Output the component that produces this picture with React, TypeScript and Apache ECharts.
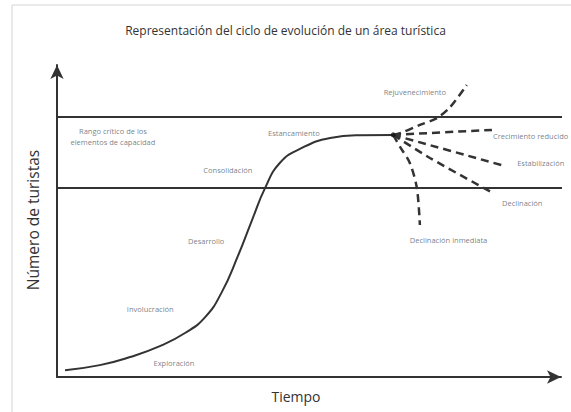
import React, { useEffect, useRef } from "react";
import * as echarts from "echarts";

const titleText = "Representación del ciclo de evolución de un área turística";
const yAxisName = "Número de turistas";
const xAxisName = "Tiempo";

// Main life-cycle curve [time, tourists]
const lifeCycleCurve: [number, number][] = [
  [1.6, 2.2], [8.5, 3.8], [14.5, 6.4], [20.4, 9.9], [25.4, 14.1],
  [29.4, 19.2], [32.7, 27.2], [35.9, 38.8], [38.7, 50.3], [41.3, 60.6],
  [44.2, 68.6], [48.2, 73.1], [54.2, 76.6], [60.1, 77.5], [66.7, 77.6],
];

// Critical range of capacity (two horizontal limits)
const capacityUpper: [number, number][] = [[0, 83.3], [102, 83.3]];
const capacityLower: [number, number][] = [[0, 60.6], [102, 60.6]];

const branchOrigin: [number, number] = [66.7, 77.6];
const rejuvenecimiento: [number, number][] = [branchOrigin, [68.7, 78.5], [72.0, 80.8], [75.4, 83.0], [78.0, 86.5], [81.3, 93.6]];
const crecimientoReducido: [number, number][] = [branchOrigin, [86.3, 79.2]];
const estabilizacion: [number, number][] = [branchOrigin, [88.9, 67.6]];
const declinacion: [number, number][] = [branchOrigin, [74.0, 70.2], [86.5, 59.0]];
const declinacionInmediata: [number, number][] = [branchOrigin, [68.1, 73.7], [70.0, 68.6], [71.4, 60.6], [72.0, 48.7]];

// Stage labels (centered on point)
const stageLabels = [
  { name: "Rejuvenecimiento", value: [71.0, 91.3] },
  { name: "Rango crítico de los\nelementos de capacidad", value: [11.1, 77.2] },
  { name: "Consolidación", value: [33.9, 66.3] },
  { name: "Estancamiento", value: [47.0, 78.2] },
  { name: "Desarrollo", value: [29.6, 43.6] },
  { name: "Involucración", value: [18.5, 21.8] },
  { name: "Exploración", value: [23.2, 4.5] },
];
// Branch labels (starting at point)
const branchLabels = [
  { name: "Crecimiento reducido", value: [86.5, 77.2] },
  { name: "Estabilización", value: [91.3, 68.6] },
  { name: "Declinación", value: [88.3, 55.8] },
  { name: "Declinación inmediata", value: [70.0, 43.9] },
];

const FONT = "'Open Sans', 'Noto Sans', sans-serif";
const LINE = "#333";
const LABEL = "#56606a";

export default function App() {
  const ref = useRef<HTMLDivElement>(null);
  useEffect(() => {
    document.body.style.margin = "0";
    const chart = echarts.init(ref.current!, null, { renderer: "svg" });
    const dashed = (data: [number, number][]) => ({
      type: "line",
      data,
      smooth: 0.3,
      showSymbol: false,
      clip: false,
      lineStyle: { color: LINE, width: 2.5, type: [8, 5] },
      z: 3,
    });
    const labelStyle = {
      show: true, position: "inside", formatter: "{b}", verticalAlign: "middle",
      fontFamily: FONT, fontSize: 7.5, lineHeight: 11, color: LABEL,
      textBorderWidth: 0, textBorderColor: "transparent",
    };
    chart.setOption({
      animation: false,
      backgroundColor: "#fff",
      title: {
        text: titleText,
        left: "center",
        top: 19,
        textStyle: { fontFamily: FONT, fontSize: 12, fontWeight: "normal", color: "#333" },
      },
      grid: { left: 57, right: 10, top: 65, bottom: 35 },
      xAxis: {
        type: "value", min: 0, max: 100,
        axisLine: { show: true, symbol: ["none", "arrow"], symbolSize: [10, 14], lineStyle: { color: LINE, width: 2 } },
        axisTick: { show: false }, axisLabel: { show: false }, splitLine: { show: false },
      },
      yAxis: {
        type: "value", min: 0, max: 100,
        axisLine: { show: true, symbol: ["none", "arrow"], symbolSize: [10, 14], lineStyle: { color: LINE, width: 2 } },
        axisTick: { show: false }, axisLabel: { show: false }, splitLine: { show: false },
      },
      graphic: [
        { type: "rect", shape: { x: 12, y: 5, width: 700, height: 600 }, style: { fill: "none", stroke: "#d4d4d4", lineWidth: 1 }, silent: true, z: -1 },
        {
          type: "text", x: 33, y: 220, rotation: Math.PI / 2,
          style: { text: yAxisName, fontFamily: FONT, fontSize: 15.5, fill: "#333", align: "center", verticalAlign: "middle" },
        },
        {
          type: "text", x: 296, y: 396,
          style: { text: xAxisName, fontFamily: FONT, fontSize: 14, fill: "#333", align: "center", verticalAlign: "middle" },
        },
      ],
      series: [
        { type: "line", data: capacityUpper, showSymbol: false, clip: false, lineStyle: { color: LINE, width: 2 } },
        { type: "line", data: capacityLower, showSymbol: false, clip: false, lineStyle: { color: LINE, width: 2 } },
        { type: "line", data: lifeCycleCurve, smooth: 0.5, showSymbol: false, lineStyle: { color: LINE, width: 2 }, z: 4 },
        dashed(rejuvenecimiento),
        dashed(crecimientoReducido),
        dashed(estabilizacion),
        dashed(declinacion),
        dashed(declinacionInmediata),
        { type: "scatter", data: [branchOrigin], symbolSize: 5, itemStyle: { color: "#111" }, z: 5 },
        {
          type: "scatter", data: stageLabels, symbolSize: 0, silent: true,
          itemStyle: { color: LABEL },
          label: { ...labelStyle, align: "center" },
        },
        {
          type: "scatter", data: branchLabels, symbolSize: 0, silent: true,
          itemStyle: { color: LABEL },
          label: { ...labelStyle, align: "left" },
        },
      ],
    });
    return () => chart.dispose();
  }, []);
  return <div ref={ref} style={{ width: 571, height: 412 }} />;
}
